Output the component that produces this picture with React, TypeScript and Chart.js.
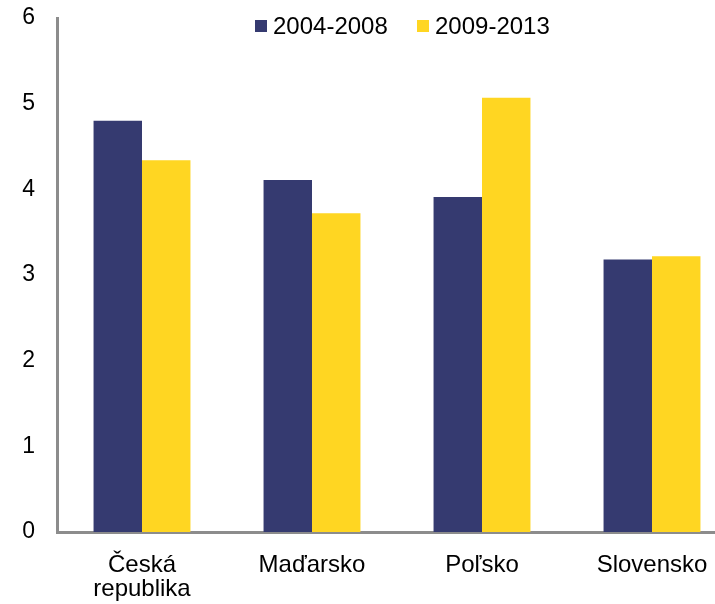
import React, { useEffect, useRef } from "react";
import { Chart, registerables } from "chart.js";

Chart.register(...registerables);

const categories: string[][] = [["Česká", "republika"], ["Maďarsko"], ["Poľsko"], ["Slovensko"]];
const seriesNames = ["2004-2008", "2009-2013"];
const values2004_2008 = [4.8, 4.11, 3.91, 3.18];
const values2009_2013 = [4.34, 3.72, 5.07, 3.22];
const yTicks = [0, 1, 2, 3, 4, 5, 6];

const NAVY = "#353a70";
const YELLOW = "#ffd622";
const AXIS = "#8c8c8c";
const FONT = "'Liberation Sans', Arial, sans-serif";

export default function App() {
  const ref = useRef<HTMLCanvasElement | null>(null);

  useEffect(() => {
    if (!ref.current) return;
    const chart = new Chart(ref.current, {
      type: "bar",
      data: {
        labels: categories,
        datasets: [
          {
            label: seriesNames[0],
            data: values2004_2008,
            backgroundColor: NAVY,
            categoryPercentage: 0.57,
            barPercentage: 1.0,
          },
          {
            label: seriesNames[1],
            data: values2009_2013,
            backgroundColor: YELLOW,
            categoryPercentage: 0.57,
            barPercentage: 1.0,
          },
        ],
      },
      options: {
        responsive: false,
        animation: false,
        devicePixelRatio: 1,
        layout: { padding: { top: 18, right: 3, left: 0, bottom: 0 } },
        plugins: {
          legend: { display: false },
          tooltip: { enabled: false },
          title: { display: false },
        },
        scales: {
          x: {
            grid: { display: false, drawTicks: false },
            border: { display: true, color: AXIS, width: 3 },
            ticks: {
              color: "#000",
              font: { family: FONT, size: 24, lineHeight: 1.0 },
              padding: 21,
              maxRotation: 0,
              autoSkip: false,
            },
            afterFit: (scale: any) => {
              scale.height = 72;
              scale.paddingLeft = 0;
              scale.paddingRight = 0;
            },
          },
          y: {
            min: yTicks[0],
            max: yTicks[yTicks.length - 1],
            grid: { display: false, drawTicks: false },
            border: { display: true, color: AXIS, width: 3 },
            afterBuildTicks: (scale: any) => {
              scale.ticks = yTicks.map((v) => ({ value: v }));
            },
            ticks: {
              color: "#000",
              font: { family: FONT, size: 23 },
              padding: 22,
              stepSize: 1,
            },
            afterFit: (scale: any) => {
              scale.width = 57;
              scale.paddingTop = 0;
              scale.paddingBottom = 0;
            },
          },
        },
      },
    });
    return () => chart.destroy();
  }, []);

  const legendItem = (name: string, color: string, left: number) => (
    <div
      key={name}
      style={{
        position: "absolute",
        left,
        top: 14,
        height: 24,
        display: "flex",
        alignItems: "center",
        fontFamily: FONT,
        fontSize: 24,
        lineHeight: "24px",
        color: "#000",
        whiteSpace: "nowrap",
      }}
    >
      <span style={{ display: "inline-block", width: 12, height: 12, background: color, marginRight: 6 }} />
      <span>{name}</span>
    </div>
  );

  return (
    <div
      style={{
        position: "fixed",
        left: 0,
        top: 0,
        width: 715,
        height: 604,
        overflow: "hidden",
        background: "#fff",
      }}
    >
      <canvas ref={ref} width={740} height={604} style={{ position: "absolute", left: 0, top: 0, width: 740, height: 604 }} />
      {legendItem(seriesNames[0], NAVY, 255)}
      {legendItem(seriesNames[1], YELLOW, 417)}
    </div>
  );
}
